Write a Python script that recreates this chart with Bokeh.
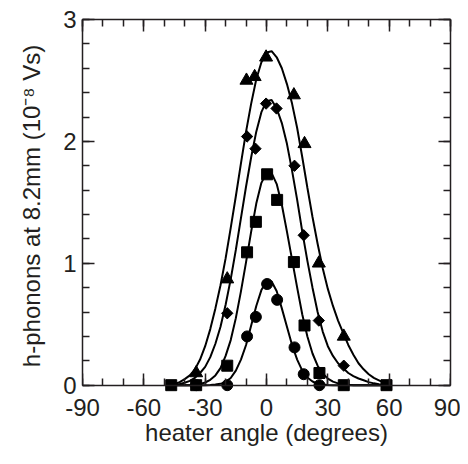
import math
from bokeh.plotting import figure
from bokeh.models import Range1d, LinearAxis, FixedTicker
from bokeh.embed import file_html
from bokeh.resources import INLINE

# ---------------- data ----------------
curve_x = [-47.5, -45, -42.5, -40, -37.5, -35, -32.5, -30, -27.5, -25, -22.5, -20,
           -17.5, -15, -12.5, -10, -7.5, -5, -2.5, 0, 2.5, 5, 7.5, 10, 12.5, 15,
           17.5, 20, 22.5, 25, 27.5, 30, 32.5, 35, 37.5, 40, 42.5, 45, 47.5, 50,
           52.5, 55, 57.5, 60]

tri_curve = [0.0, 0.01, 0.025, 0.05, 0.08, 0.13, 0.21, 0.32, 0.46, 0.63, 0.82, 1.04,
             1.29, 1.55, 1.82, 2.08, 2.31, 2.51, 2.65, 2.73, 2.74, 2.69, 2.60, 2.47,
             2.31, 2.11, 1.87, 1.62, 1.38, 1.16, 0.96, 0.79, 0.65, 0.53, 0.43, 0.33,
             0.25, 0.18, 0.13, 0.09, 0.06, 0.04, 0.02, 0.0]

dia_curve = [0.0, 0.005, 0.01, 0.02, 0.035, 0.06, 0.10, 0.15, 0.23, 0.34, 0.48, 0.66,
             0.87, 1.11, 1.37, 1.63, 1.87, 2.08, 2.24, 2.33, 2.34, 2.27, 2.15, 1.98,
             1.76, 1.52, 1.26, 1.02, 0.80, 0.60, 0.44, 0.32, 0.24, 0.18, 0.14, 0.10,
             0.075, 0.055, 0.04, 0.025, 0.015, 0.008, 0.003, 0.0]

sq_curve = [0.0, 0.0, 0.0, 0.0, 0.0, 0.004, 0.01, 0.022, 0.044, 0.08, 0.14, 0.24,
            0.37, 0.55, 0.77, 1.01, 1.26, 1.49, 1.66, 1.74, 1.74, 1.65, 1.48, 1.26,
            1.03, 0.80, 0.58, 0.40, 0.26, 0.16, 0.096, 0.054, 0.029, 0.015, 0.007,
            0.003, 0.0, 0.0, 0.0, 0.0, 0.0, 0.0, 0.0, 0.0]

cir_curve = [0.0, 0.0, 0.0, 0.0, 0.0, 0.0, 0.0, 0.0, 0.002, 0.005, 0.011, 0.027,
             0.059, 0.12, 0.21, 0.33, 0.49, 0.65, 0.78, 0.85, 0.85, 0.77, 0.63, 0.48,
             0.33, 0.21, 0.12, 0.063, 0.030, 0.013, 0.006, 0.002, 0.0, 0.0, 0.0, 0.0,
             0.0, 0.0, 0.0, 0.0, 0.0, 0.0, 0.0, 0.0]

tri_x = [-34.4, -19.2, -9.8, -5.8, -0.2, 13.4, 18.6, 25.6, 37.8]
tri_y = [0.10, 0.87, 2.50, 2.53, 2.69, 2.38, 1.98, 1.00, 0.40]

dia_x = [-19.2, -9.5, -5.4, -0.2, 4.9, 13.7, 18.2, 25.6, 37.8]
dia_y = [0.59, 2.04, 1.94, 2.31, 2.27, 1.80, 1.23, 0.53, 0.16]

sq_x = [-46.6, -34.4, -19.2, -9.5, -5.2, 0.3, 5.2, 13.4, 18.6, 25.9, 37.8, 58.7]
sq_y = [0.0, 0.0, 0.16, 1.09, 1.34, 1.73, 1.52, 1.01, 0.49, 0.10, 0.0, 0.0]

cir_x = [-34.4, -19.2, -9.5, -5.2, 0.3, 5.2, 13.7, 18.2, 25.9]
cir_y = [0.0, 0.0, 0.40, 0.56, 0.83, 0.70, 0.31, 0.09, 0.0]

x_major = [-90, -60, -30, 0, 30, 60, 90]
x_major_labels = ["-90", "-60", "-30", "0", "30", "60", "90"]
x_minor = [-90, -80, -70, -60, -50, -40, -30, -20, -10, 0, 10, 20, 30, 40, 50, 60, 70, 80, 90]
y_major = [0, 1, 2, 3]
y_major_labels = ["0", "1", "2", "3"]
y_minor = [0, 0.2, 0.4, 0.6, 0.8, 1.0, 1.2, 1.4, 1.6, 1.8, 2.0, 2.2, 2.4, 2.6, 2.8, 3.0]

x_title = "heater angle (degrees)"
y_title = "h-phonons at 8.2mm (10\u207b\u2078 Vs)"

# ---------------- figure ----------------
INK = "#231f20"
FONT = "Liberation Sans"

# y range starts a little below 0 so the markers sitting on the axis are not clipped;
# the bottom axis line itself is pinned at y = 0
p = figure(width=460, height=464, x_range=Range1d(-90, 90), y_range=Range1d(-0.06, 3),
           output_backend="svg", toolbar_location=None,
           min_border_left=82, min_border_right=10, min_border_top=19, min_border_bottom=72)
p.grid.visible = False
p.background_fill_color = "white"
p.border_fill_color = "white"
p.outline_line_color = None

p.add_layout(LinearAxis(), "above")
p.add_layout(LinearAxis(), "right")
p.add_layout(LinearAxis(), "below")   # line + ticks pinned at y = 0


def style_axis(ax, major, minor, labels, label_texts):
    ax.ticker = FixedTicker(ticks=major, minor_ticks=minor)
    ax.major_tick_in = 12
    ax.major_tick_out = 0
    ax.minor_tick_in = 7
    ax.minor_tick_out = 0
    ax.axis_line_color = INK
    ax.axis_line_width = 1.5
    ax.major_tick_line_color = INK
    ax.major_tick_line_width = 1.5
    ax.minor_tick_line_color = INK
    ax.minor_tick_line_width = 1.5
    if labels:
        ax.major_label_overrides = {t: s for t, s in zip(major, label_texts)}
        ax.major_label_text_font = FONT
        ax.major_label_text_font_size = "24px"
        ax.major_label_text_color = INK
        ax.axis_label_text_font = FONT
        ax.axis_label_text_font_size = "24px"
        ax.axis_label_text_font_style = "normal"
        ax.axis_label_text_color = INK
    else:
        ax.major_label_overrides = {t: "" for t in major}
        ax.major_label_text_font_size = "1px"
        ax.major_label_standoff = 0
        ax.axis_label = None


# bottom: first axis carries the labels only, second draws line and ticks at y = 0
lab_ax = p.below[0]
style_axis(lab_ax, x_major, x_minor, True, x_major_labels)
lab_ax.axis_line_color = None
lab_ax.major_tick_line_color = None
lab_ax.minor_tick_line_color = None
lab_ax.axis_label = x_title
lab_ax.major_label_standoff = 6
lab_ax.axis_label_standoff = 0

line_ax = p.below[1]
style_axis(line_ax, x_major, x_minor, False, x_major_labels)
line_ax.fixed_location = 0

for ax in p.above:
    style_axis(ax, x_major, x_minor, False, x_major_labels)
for ax in p.left:
    style_axis(ax, y_major, y_minor, True, y_major_labels)
    ax.bounds = (0, 3)
    ax.axis_label = y_title
    ax.major_label_standoff = 6
    ax.axis_label_standoff = 15
for ax in p.right:
    style_axis(ax, y_major, y_minor, False, y_major_labels)
    ax.bounds = (0, 3)

# fitted curves
for cy in (tri_curve, dia_curve, sq_curve, cir_curve):
    p.line(curve_x, cy, line_color="black", line_width=2)

# data markers
p.scatter(sq_x, sq_y, marker="square", size=11, fill_color="black", line_color="black")
p.scatter(cir_x, cir_y, marker="circle", size=11, fill_color="black", line_color="black")
p.scatter(dia_x, dia_y, marker="square", size=8, angle=math.pi / 4,
          fill_color="black", line_color="black")
p.scatter(tri_x, tri_y, marker="triangle", size=13, fill_color="black", line_color="black")

open("out.html", "w").write(file_html(p, INLINE))
